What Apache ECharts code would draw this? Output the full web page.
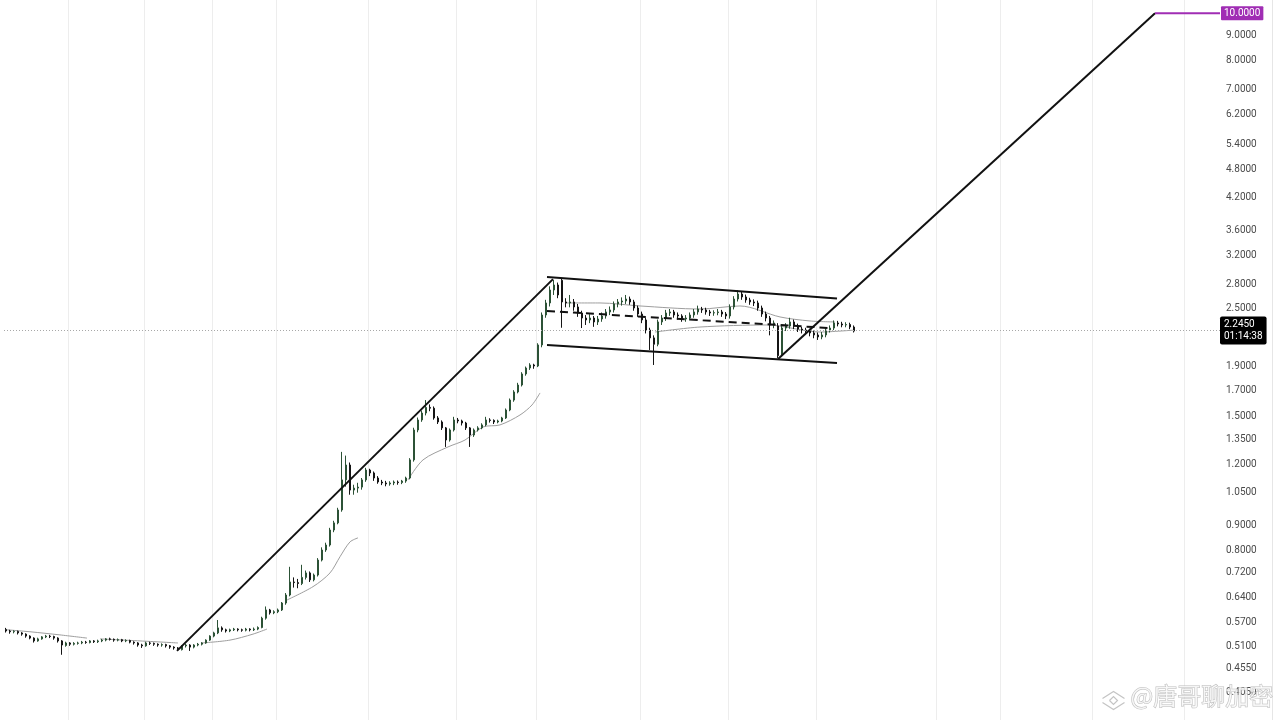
<!DOCTYPE html>
<html>
<head>
<meta charset="utf-8">
<title>price chart</title>
<script src="https://cdn.jsdelivr.net/npm/echarts@6/dist/echarts.min.js"></script>
<style>
  html, body { margin: 0; padding: 0; background: #fff; }
  #main { width: 1280px; height: 720px; }
</style>
</head>
<body>
<div id="main"></div>
<script>
// candles: [open, close, low, high]
const baseCandles = [
  [0.552, 0.548, 0.544, 0.556], [0.548, 0.546, 0.541, 0.551], [0.546, 0.547, 0.542, 0.550], [0.547, 0.543, 0.539, 0.549],
  [0.543, 0.540, 0.536, 0.545], [0.540, 0.535, 0.531, 0.542], [0.535, 0.530, 0.527, 0.537], [0.530, 0.523, 0.519, 0.532],
  [0.523, 0.528, 0.521, 0.531], [0.528, 0.533, 0.526, 0.535], [0.533, 0.535, 0.530, 0.538], [0.535, 0.534, 0.530, 0.538],
  [0.534, 0.530, 0.526, 0.536], [0.530, 0.523, 0.519, 0.532], [0.523, 0.513, 0.490, 0.525], [0.512, 0.518, 0.509, 0.521],
  [0.518, 0.515, 0.511, 0.520], [0.515, 0.517, 0.512, 0.520], [0.517, 0.518, 0.514, 0.521], [0.518, 0.520, 0.515, 0.523],
  [0.520, 0.519, 0.516, 0.523], [0.519, 0.523, 0.517, 0.525], [0.523, 0.521, 0.518, 0.525], [0.521, 0.523, 0.518, 0.526],
  [0.523, 0.525, 0.520, 0.528], [0.525, 0.528, 0.522, 0.530], [0.528, 0.527, 0.524, 0.531], [0.527, 0.525, 0.521, 0.529],
  [0.525, 0.526, 0.522, 0.529], [0.526, 0.523, 0.520, 0.528], [0.523, 0.524, 0.520, 0.527], [0.524, 0.520, 0.517, 0.526],
  [0.520, 0.518, 0.514, 0.522], [0.518, 0.513, 0.509, 0.520], [0.513, 0.511, 0.506, 0.516], [0.511, 0.518, 0.509, 0.521],
  [0.518, 0.517, 0.513, 0.521], [0.517, 0.515, 0.511, 0.519], [0.515, 0.513, 0.509, 0.517], [0.513, 0.514, 0.509, 0.517],
  [0.514, 0.511, 0.507, 0.516], [0.511, 0.508, 0.504, 0.513], [0.508, 0.506, 0.502, 0.510], [0.506, 0.502, 0.499, 0.508]
];
const rallyCandles = [
  [0.502, 0.511, 0.500, 0.513], [0.511, 0.513, 0.507, 0.516], [0.513, 0.508, 0.499, 0.515], [0.508, 0.513, 0.505, 0.515],
  [0.513, 0.515, 0.510, 0.518], [0.515, 0.518, 0.512, 0.520], [0.518, 0.525, 0.516, 0.527], [0.525, 0.535, 0.523, 0.537],
  [0.535, 0.543, 0.532, 0.546], [0.543, 0.556, 0.540, 0.577], [0.556, 0.551, 0.546, 0.560], [0.551, 0.548, 0.544, 0.554],
  [0.548, 0.551, 0.545, 0.554], [0.551, 0.553, 0.548, 0.556], [0.553, 0.551, 0.547, 0.555], [0.551, 0.550, 0.546, 0.554],
  [0.550, 0.553, 0.547, 0.556], [0.553, 0.551, 0.547, 0.555], [0.551, 0.553, 0.548, 0.557], [0.553, 0.557, 0.550, 0.560],
  [0.557, 0.582, 0.555, 0.586], [0.582, 0.605, 0.578, 0.615], [0.605, 0.597, 0.592, 0.608], [0.597, 0.600, 0.593, 0.604],
  [0.600, 0.605, 0.596, 0.609], [0.605, 0.625, 0.602, 0.628], [0.625, 0.649, 0.620, 0.655], [0.649, 0.690, 0.645, 0.741],
  [0.690, 0.688, 0.672, 0.705], [0.688, 0.685, 0.670, 0.700], [0.685, 0.705, 0.680, 0.748], [0.705, 0.720, 0.698, 0.728],
  [0.720, 0.697, 0.690, 0.725], [0.697, 0.713, 0.692, 0.718], [0.713, 0.765, 0.708, 0.772], [0.765, 0.802, 0.760, 0.812],
  [0.802, 0.821, 0.795, 0.830], [0.821, 0.881, 0.815, 0.890], [0.881, 0.911, 0.872, 0.920], [0.911, 0.968, 0.905, 0.978],
  [0.968, 1.115, 0.960, 1.272], [1.115, 1.196, 1.080, 1.250], [1.196, 1.063, 1.040, 1.210], [1.063, 1.073, 1.040, 1.090],
  [1.073, 1.078, 1.050, 1.100], [1.078, 1.115, 1.065, 1.125], [1.115, 1.168, 1.105, 1.180], [1.168, 1.152, 1.135, 1.175],
  [1.152, 1.125, 1.110, 1.160], [1.125, 1.104, 1.095, 1.135], [1.104, 1.099, 1.088, 1.115], [1.099, 1.094, 1.082, 1.110],
  [1.094, 1.099, 1.085, 1.108], [1.099, 1.104, 1.088, 1.112], [1.104, 1.101, 1.090, 1.112], [1.101, 1.109, 1.093, 1.115],
  [1.109, 1.125, 1.100, 1.132], [1.125, 1.225, 1.118, 1.235], [1.225, 1.410, 1.215, 1.425], [1.410, 1.478, 1.395, 1.495],
  [1.478, 1.527, 1.465, 1.545], [1.527, 1.568, 1.510, 1.623], [1.568, 1.562, 1.540, 1.590], [1.562, 1.492, 1.480, 1.575],
  [1.492, 1.464, 1.450, 1.505], [1.464, 1.424, 1.410, 1.475], [1.424, 1.345, 1.302, 1.430], [1.345, 1.410, 1.335, 1.420],
  [1.410, 1.478, 1.400, 1.500], [1.478, 1.471, 1.455, 1.492], [1.471, 1.457, 1.440, 1.480], [1.457, 1.424, 1.410, 1.465],
  [1.424, 1.377, 1.302, 1.430], [1.377, 1.410, 1.365, 1.420], [1.410, 1.424, 1.400, 1.435], [1.424, 1.444, 1.415, 1.455],
  [1.444, 1.478, 1.435, 1.500], [1.478, 1.475, 1.460, 1.490], [1.475, 1.464, 1.450, 1.482], [1.464, 1.471, 1.455, 1.480],
  [1.471, 1.492, 1.462, 1.500], [1.492, 1.549, 1.485, 1.560], [1.549, 1.623, 1.540, 1.635], [1.623, 1.686, 1.610, 1.700],
  [1.686, 1.742, 1.675, 1.760], [1.742, 1.835, 1.730, 1.850], [1.835, 1.887, 1.820, 1.900], [1.887, 1.914, 1.870, 1.930],
  [1.914, 1.905, 1.880, 1.925], [1.905, 2.103, 1.895, 2.120]
];
const rangeCandles = [
  [2.103, 2.421, 2.080, 2.450], [2.421, 2.562, 2.390, 2.600], [2.562, 2.723, 2.520, 2.770], [2.723, 2.788, 2.660, 2.854],
  [2.788, 2.660, 2.620, 2.820], [2.850, 2.574, 2.280, 2.880], [2.574, 2.562, 2.510, 2.620], [2.562, 2.574, 2.510, 2.660],
  [2.574, 2.514, 2.470, 2.610], [2.514, 2.444, 2.400, 2.550], [2.444, 2.387, 2.277, 2.470], [2.387, 2.365, 2.310, 2.420],
  [2.365, 2.387, 2.330, 2.430], [2.387, 2.343, 2.290, 2.410], [2.343, 2.376, 2.310, 2.410], [2.376, 2.410, 2.345, 2.450],
  [2.410, 2.456, 2.380, 2.490], [2.456, 2.479, 2.420, 2.520], [2.479, 2.550, 2.450, 2.580], [2.550, 2.574, 2.510, 2.610],
  [2.574, 2.586, 2.530, 2.630], [2.586, 2.610, 2.550, 2.660], [2.610, 2.574, 2.540, 2.640], [2.574, 2.502, 2.470, 2.600],
  [2.502, 2.432, 2.400, 2.530], [2.432, 2.365, 2.330, 2.460], [2.365, 2.256, 2.220, 2.390], [2.256, 2.174, 2.054, 2.280],
  [2.174, 2.110, 1.914, 2.200], [2.110, 2.343, 2.090, 2.370], [2.343, 2.387, 2.310, 2.420], [2.387, 2.444, 2.355, 2.480],
  [2.444, 2.456, 2.410, 2.490], [2.456, 2.421, 2.390, 2.480], [2.421, 2.410, 2.370, 2.450], [2.410, 2.376, 2.345, 2.430],
  [2.376, 2.387, 2.345, 2.420], [2.387, 2.421, 2.360, 2.450], [2.421, 2.456, 2.390, 2.490], [2.456, 2.490, 2.425, 2.530],
  [2.490, 2.479, 2.445, 2.515], [2.479, 2.456, 2.425, 2.505], [2.456, 2.444, 2.410, 2.480], [2.444, 2.448, 2.412, 2.475],
  [2.448, 2.456, 2.418, 2.490], [2.456, 2.432, 2.400, 2.480], [2.432, 2.410, 2.375, 2.455], [2.410, 2.514, 2.380, 2.545],
  [2.514, 2.610, 2.485, 2.645], [2.610, 2.672, 2.580, 2.720], [2.672, 2.635, 2.600, 2.700], [2.635, 2.598, 2.565, 2.665],
  [2.598, 2.574, 2.540, 2.625], [2.574, 2.562, 2.525, 2.605], [2.562, 2.502, 2.470, 2.590], [2.502, 2.432, 2.400, 2.530],
  [2.432, 2.387, 2.350, 2.460], [2.387, 2.310, 2.200, 2.410], [2.310, 2.332, 2.275, 2.360], [2.300, 2.000, 1.978, 2.330],
  [2.000, 2.277, 1.990, 2.300], [2.277, 2.299, 2.245, 2.330], [2.299, 2.343, 2.270, 2.390], [2.343, 2.299, 2.265, 2.370],
  [2.299, 2.266, 2.235, 2.325], [2.266, 2.256, 2.220, 2.290], [2.256, 2.245, 2.210, 2.280], [2.245, 2.225, 2.190, 2.270],
  [2.225, 2.204, 2.170, 2.250], [2.204, 2.184, 2.153, 2.230], [2.184, 2.204, 2.160, 2.235], [2.204, 2.256, 2.180, 2.280],
  [2.256, 2.277, 2.230, 2.305], [2.277, 2.332, 2.255, 2.360], [2.332, 2.321, 2.295, 2.355], [2.321, 2.310, 2.285, 2.345],
  [2.310, 2.315, 2.285, 2.340], [2.315, 2.288, 2.265, 2.335], [2.288, 2.245, 2.230, 2.305]
];

// price scale labels on the right
const priceTicks = [9, 8, 7, 6.2, 5.4, 4.8, 4.2, 3.6, 3.2, 2.8, 2.5, 1.9, 1.7, 1.5, 1.35, 1.2, 1.05,
  0.9, 0.8, 0.72, 0.64, 0.57, 0.51, 0.455, 0.405];
const lastPrice = 2.245;
const countdown = '01:14:38';
const targetPrice = 10;

// bar slots where the time grid has a vertical line
const timeBreaks = [1, 16, 35, 52, 68, 91, 113, 133, 159, 181, 203, 233, 249, 272, 295];

// anchored average lines (slot, price)
const avgSegments = [
  [[0.25, 0.551], [6, 0.546], [13.5, 0.538], [20.25, 0.530]],
  [[23.5, 0.528], [33.5, 0.523], [43, 0.518]],
  [[49, 0.518], [56, 0.525], [61.75, 0.540], [65.25, 0.553]],
  [[70.25, 0.634], [76.75, 0.675], [81, 0.720], [83.5, 0.777], [86, 0.833], [88, 0.849]],
  [[100.5, 1.115], [104.25, 1.225], [110.5, 1.302], [114.75, 1.345], [119.25, 1.430], [123.5, 1.444],
   [128.5, 1.513], [131.5, 1.586], [133.5, 1.678]],
  [[139.75, 2.562], [148.5, 2.562], [158.5, 2.526], [173.5, 2.490], [183.5, 2.526], [193.5, 2.399],
   [201, 2.354], [207.25, 2.343]],
  [[162.25, 2.235], [173.5, 2.288], [190.25, 2.310], [203.5, 2.235], [212.25, 2.256]]
];

// hand drawn lines (slot, price)
const riseLine = [[42.75, 0.499], [136.75, 2.866]];
const channelTop = [[135.25, 2.893], [207.75, 2.616]];
const channelBottom = [[135.25, 2.103], [207.75, 1.932]];
const channelMid = [[135.25, 2.467], [206, 2.277]];
const projection = [[193, 1.968], [287.25, 10]];
const targetLine = [[287.25, 10], [303.5, 10]];

const slotCount = 304;
const categories = [];
for (let i = 0; i < slotCount; i++) categories.push(String(i));
const candles = baseCandles.concat(rallyCandles, rangeCandles);

const labelFont = { fontFamily: 'Roboto, "Liberation Sans", sans-serif', fontSize: 10 };
const hidden = { color: 'rgba(0,0,0,0)', width: 0 };

const scaleMarks = priceTicks.map(v => ({
  yAxis: v,
  lineStyle: hidden,
  label: { formatter: v.toFixed(4), color: '#4a4a4a' }
}));
scaleMarks.push({
  yAxis: targetPrice,
  lineStyle: hidden,
  label: { formatter: targetPrice.toFixed(4), color: '#fff', backgroundColor: '#a02db4',
    padding: [2, 3, 2, 3], borderRadius: 1, distance: 1 }
});
scaleMarks.push({
  yAxis: lastPrice,
  lineStyle: { color: '#a8a8a8', type: [1, 2], width: 1 },
  label: { formatter: lastPrice.toFixed(4) + '\n' + countdown, color: '#fff', backgroundColor: '#000',
    padding: [2, 4, 2, 4], lineHeight: 12, borderRadius: 2, distance: 0 }
});

function drawnLine(data, color, type) {
  return {
    type: 'line', xAxisIndex: 1, data: data, showSymbol: false, silent: true,
    lineStyle: { color: color, width: 2, type: type || 'solid' }, z: 5
  };
}

const series = [
  {
    type: 'candlestick',
    data: candles,
    barWidth: 2,
    itemStyle: {
      color: '#3b6e47', color0: '#151515',
      borderColor: '#2c5236', borderColor0: '#151515', borderWidth: 1
    },
    markLine: {
      silent: true,
      symbol: 'none',
      animation: false,
      label: Object.assign({ position: 'end', distance: 6 }, labelFont),
      data: scaleMarks
    }
  }
];
avgSegments.forEach(seg => {
  series.push({
    type: 'line', xAxisIndex: 1, data: seg, showSymbol: false, silent: true, smooth: 0.3,
    lineStyle: { color: '#9e9e9e', width: 1 }, z: 1
  });
});
series.push(drawnLine(riseLine, '#111'));
series.push(drawnLine(channelTop, '#111'));
series.push(drawnLine(channelBottom, '#111'));
series.push(drawnLine(channelMid, '#111', [8, 5]));
series.push(drawnLine(projection, '#111'));
series.push(drawnLine(targetLine, '#a02db4'));

const chart = echarts.init(document.getElementById('main'));
chart.setOption({
  animation: false,
  backgroundColor: '#ffffff',
  grid: { left: 4, right: 60, top: 0, bottom: 0 },
  xAxis: [
    {
      type: 'category',
      data: categories,
      boundaryGap: true,
      axisLine: { show: false },
      axisTick: { show: false },
      axisLabel: { show: false },
      splitLine: {
        show: true,
        showMinLine: false,
        showMaxLine: false,
        interval: (idx) => timeBreaks.includes(idx),
        lineStyle: { color: '#ededed', width: 1 }
      }
    },
    { type: 'value', min: -0.5, max: slotCount - 0.5, show: false }
  ],
  yAxis: {
    type: 'log',
    min: 0.3606,
    max: 10.646,
    axisLine: { show: false },
    axisTick: { show: false },
    axisLabel: { show: false },
    splitLine: { show: false }
  },
  series: series,
  graphic: [
    {
      type: 'line', shape: { x1: 1272.5, y1: 0, x2: 1272.5, y2: 720 },
      style: { stroke: '#e6e6e6', lineWidth: 1 }
    },
    {
      type: 'group', left: 1100, top: 689,
      children: [
        { type: 'polyline', shape: { points: [[0, 7], [11, 0], [22, 7]] }, style: { stroke: '#c4c4c4', fill: null, lineWidth: 1.2 } },
        { type: 'polyline', shape: { points: [[0, 11], [11, 18], [22, 11]] }, style: { stroke: '#c4c4c4', fill: null, lineWidth: 1.2 } },
        { type: 'polyline', shape: { points: [[7, 9], [11, 13], [15, 9], [11, 5], [7, 9]] }, style: { stroke: '#c4c4c4', fill: null, lineWidth: 1.2 } }
      ]
    },
    {
      type: 'text', left: 1130, top: 683,
      style: {
        text: '@唐哥聊加密',
        font: '24px "Noto Sans CJK SC"',
        fill: 'rgba(255,255,255,0.7)',
        stroke: '#bdbdbd',
        lineWidth: 1
      },
      z: 10
    }
  ]
});
</script>
</body>
</html>
